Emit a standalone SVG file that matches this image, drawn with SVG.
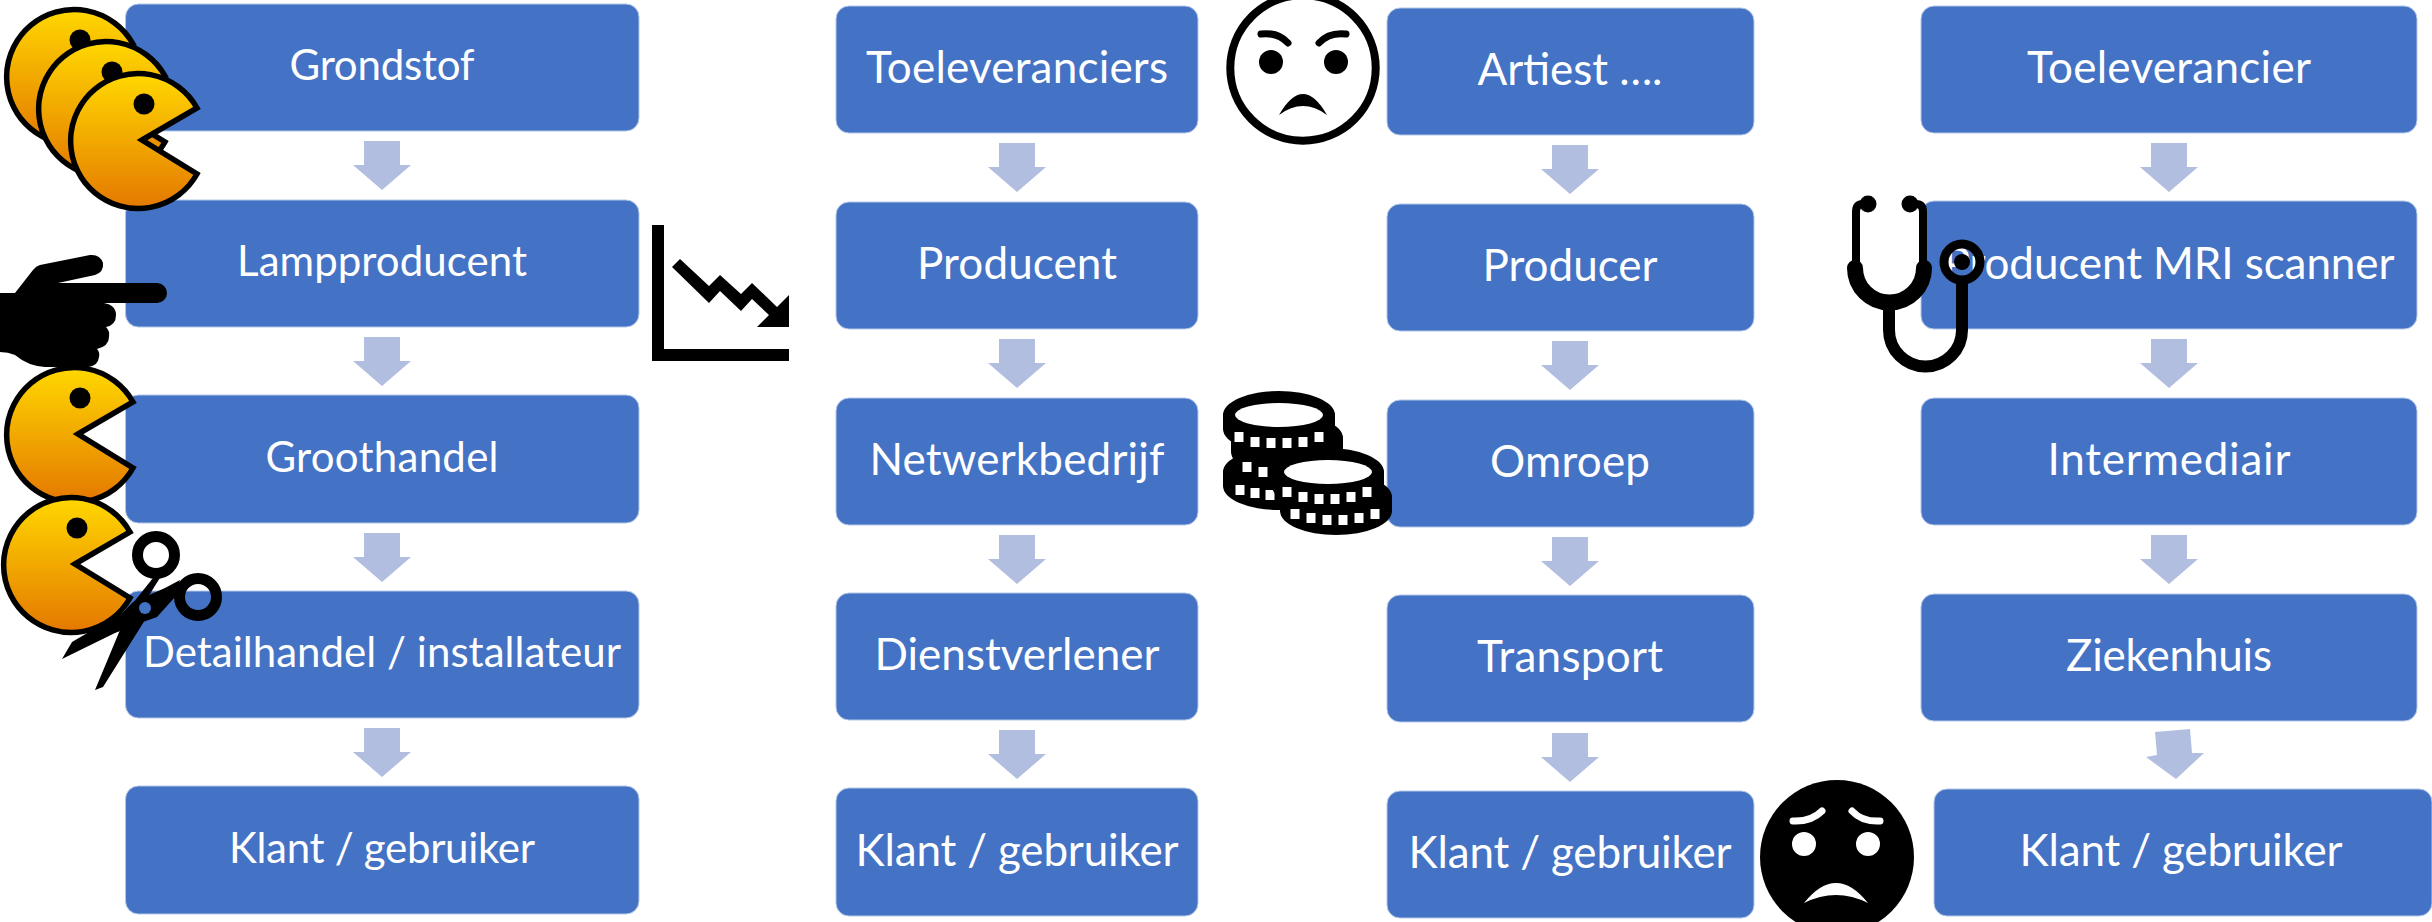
<svg xmlns="http://www.w3.org/2000/svg" width="2432" height="922" viewBox="0 0 2432 922">
<style>
.b{fill:#4472C4;stroke:#B4C7E7;stroke-width:1}
.t{fill:#fff;font-family:Lato,"Liberation Sans",sans-serif;font-size:42px;text-anchor:middle}
.u{font-size:44px}
.a{fill:#B1BEE0}
.k{fill:#000}
.w{fill:#fff}
.pac{fill:url(#pg);stroke:#000;stroke-width:5.5;stroke-linejoin:miter}
</style>
<defs>
<linearGradient id="pg" x1="0" y1="0" x2="0" y2="1"><stop offset="0" stop-color="#FFD800"/><stop offset="1" stop-color="#E47800"/></linearGradient>
<path id="ar" class="a" d="M-18,0H18V24H29L0,49L-29,24H-18Z"/>
<g id="pm"><path class="pac" d="M4,-1L59,-33A67.500,67.500 0 1 0 59,33Z"/><circle class="k" cx="6" cy="-37" r="10.500"/></g>
<path id="coin" class="k" d="M-56,0V14A56,24 0 0 0 56,14V0A56,24 0 0 0 -56,0Z"/>
<path id="tk" class="w" d="M-4.500,-5H4.500V5H-4.500Z"/>
</defs>
<g id="connectors">
<use href="#ar" x="382" y="141"/><use href="#ar" x="382" y="337"/><use href="#ar" x="382" y="533"/><use href="#ar" x="382" y="728"/>
<use href="#ar" x="1017" y="143"/><use href="#ar" x="1017" y="339"/><use href="#ar" x="1017" y="535"/><use href="#ar" x="1017" y="730"/>
<use href="#ar" x="1570" y="145"/><use href="#ar" x="1570" y="341"/><use href="#ar" x="1570" y="537"/><use href="#ar" x="1570" y="733"/>
<use href="#ar" x="2169" y="143"/><use href="#ar" x="2169" y="339"/><use href="#ar" x="2169" y="535"/>
<path class="a" d="M2155,732L2190,729L2192,753L2204,753L2176,779L2146,757L2157,755Z"/>
</g>
<g id="n-grondstof"><rect class="b" x="125.500" y="4" width="513.500" height="127" rx="13"/><text class="t" x="382" y="80" textLength="185">Grondstof</text></g>
<g id="n-lampproducent"><rect class="b" x="125.500" y="200" width="513.500" height="127" rx="13"/><text class="t" x="382" y="276" textLength="290">Lampproducent</text></g>
<g id="n-groothandel"><rect class="b" x="125.500" y="395" width="513.500" height="128" rx="13"/><text class="t" x="382" y="472" textLength="233">Groothandel</text></g>
<g id="n-detailhandel"><rect class="b" x="125.500" y="591" width="513.500" height="127" rx="13"/><text class="t" x="382" y="667" textLength="478">Detailhandel / installateur</text></g>
<g id="n-klant1"><rect class="b" x="125.500" y="786" width="513.500" height="128" rx="13"/><text class="t" x="382" y="863" textLength="306">Klant / gebruiker</text></g>
<g id="n-toeleveranciers"><rect class="b" x="836" y="6" width="362" height="127" rx="13"/><text class="t u" x="1017" y="83" textLength="302">Toeleveranciers</text></g>
<g id="n-producent"><rect class="b" x="836" y="202" width="362" height="127" rx="13"/><text class="t u" x="1017" y="279" textLength="200">Producent</text></g>
<g id="n-netwerkbedrijf"><rect class="b" x="836" y="398" width="362" height="127" rx="13"/><text class="t u" x="1017" y="475" textLength="295">Netwerkbedrijf</text></g>
<g id="n-dienstverlener"><rect class="b" x="836" y="593" width="362" height="127" rx="13"/><text class="t u" x="1017" y="670" textLength="285">Dienstverlener</text></g>
<g id="n-klant2"><rect class="b" x="836" y="788" width="362" height="128" rx="13"/><text class="t u" x="1017" y="866" textLength="323">Klant / gebruiker</text></g>
<g id="n-artiest"><rect class="b" x="1387" y="8" width="367" height="127" rx="13"/><text class="t u" x="1570" y="85" textLength="185">Artiest ….</text></g>
<g id="n-producer"><rect class="b" x="1387" y="204" width="367" height="127" rx="13"/><text class="t u" x="1570" y="281" textLength="175">Producer</text></g>
<g id="n-omroep"><rect class="b" x="1387" y="400" width="367" height="127" rx="13"/><text class="t u" x="1570" y="477" textLength="160">Omroep</text></g>
<g id="n-transport"><rect class="b" x="1387" y="595" width="367" height="127" rx="13"/><text class="t u" x="1570" y="672" textLength="186">Transport</text></g>
<g id="n-klant3"><rect class="b" x="1387" y="791" width="367" height="127" rx="13"/><text class="t u" x="1570" y="868" textLength="323">Klant / gebruiker</text></g>
<g id="n-toeleverancier"><rect class="b" x="1921" y="6" width="496" height="127" rx="13"/><text class="t u" x="2169" y="83" textLength="284">Toeleverancier</text></g>
<g id="n-mri"><rect class="b" x="1921" y="201" width="496" height="128" rx="13"/><text class="t u" x="2169" y="279" textLength="451">Producent MRI scanner</text></g>
<g id="n-intermediair"><rect class="b" x="1921" y="398" width="496" height="127" rx="13"/><text class="t u" x="2169" y="475" textLength="243">Intermediair</text></g>
<g id="n-ziekenhuis"><rect class="b" x="1921" y="594" width="496" height="127" rx="13"/><text class="t u" x="2169" y="671" textLength="206">Ziekenhuis</text></g>
<g id="n-klant4"><rect class="b" x="1934" y="789" width="498" height="127" rx="13"/><text class="t u" x="2181" y="866" textLength="323">Klant / gebruiker</text></g>
<g id="icon-pacman-stack"><use href="#pm" x="74" y="77"/><use href="#pm" x="106" y="109"/><use href="#pm" x="138" y="141"/></g>
<g id="icon-pacman-4"><use href="#pm" x="74" y="435"/></g>
<g id="icon-hand"><path class="k" d="M0,293H15L33,270Q36,266 40,265L90,255Q100,254 103,263Q104,272 95,275L58,283H157A10,10 0 0 1 157,303H104Q116,305 116,315Q116,325 106,327Q110,331 109,337Q109,346 97,349Q100,352 99,357Q98,366 88,367H45Q28,366 15,355Q8,352 0,352Z"/></g>
<g id="icon-pacman-5"><use href="#pm" x="71" y="565"/></g>
<g id="icon-scissors">
<circle cx="156" cy="555" r="18.500" fill="none" stroke="#000" stroke-width="11"/>
<circle cx="198" cy="597" r="18.500" fill="none" stroke="#000" stroke-width="11"/>
<path class="k" d="M163,573L143,605L145,620L103,687L95,690L120,630L133,603L153,578Z"/>
<path class="k" d="M175,597L157,617L143,622L115,633L62,659L72,642L123,612L133,602L165,588L180,580Z"/>
<circle cx="145" cy="608" r="6" fill="#4472C4"/>
</g>
<g id="icon-chart"><path class="k" d="M652,225H664V349H789V361H652Z"/><path class="k" d="M680,259L709,286L720,275L741,294L752,283L777,307L789,295V327H757L769,315L752,299L741,311L720,291L709,303L672,267Z"/></g>
<g id="icon-angry"><circle cx="1303" cy="68" r="72.700" fill="#fff" stroke="#000" stroke-width="8"/><circle class="k" cx="1271" cy="62" r="12"/><circle class="k" cx="1336" cy="62" r="12"/>
<path d="M1261,34Q1278,32 1288,43M1346,34Q1329,32 1319,43" fill="none" stroke="#000" stroke-width="7" stroke-linecap="round"/><path class="k" d="M1279,115Q1303,73 1327,115Q1303,97 1279,115Z"/></g>
<g id="icon-coins">
<use href="#coin" x="1279" y="472"/><use href="#tk" x="1240" y="490"/><use href="#tk" x="1255" y="493"/><use href="#tk" x="1270" y="495"/>
<use href="#coin" x="1287" y="438"/><use href="#tk" x="1247" y="467"/><use href="#tk" x="1263" y="472"/>
<use href="#coin" x="1279" y="415"/><ellipse class="w" cx="1279" cy="415" rx="44" ry="12"/>
<use href="#tk" x="1239" y="437"/><use href="#tk" x="1255" y="442"/><use href="#tk" x="1271" y="443"/><use href="#tk" x="1287" y="443"/><use href="#tk" x="1303" y="442"/><use href="#tk" x="1319" y="437"/>
<use href="#coin" x="1336" y="497"/><use href="#tk" x="1295" y="514"/><use href="#tk" x="1311" y="518"/><use href="#tk" x="1327" y="520"/><use href="#tk" x="1343" y="520"/><use href="#tk" x="1359" y="518"/><use href="#tk" x="1375" y="514"/>
<use href="#coin" x="1328" y="472"/><ellipse class="w" cx="1328" cy="472" rx="44" ry="12"/>
<use href="#tk" x="1287" y="492"/><use href="#tk" x="1303" y="497"/><use href="#tk" x="1319" y="499"/><use href="#tk" x="1335" y="499"/><use href="#tk" x="1351" y="497"/><use href="#tk" x="1367" y="492"/>
</g>
<g id="icon-stethoscope" fill="none" stroke="#000">
<path stroke-width="8" d="M1868,204H1863Q1856,204 1856,212V268M1910,204H1916Q1923,204 1923,212V268"/>
<path stroke-width="16" stroke-linecap="round" d="M1855,268A34.500,34.500 0 0 0 1924,268"/>
<path stroke-width="12" d="M1889,305V330A36.500,36.500 0 0 0 1962,330V280"/>
<circle cx="1962" cy="262" r="18" stroke-width="9"/>
<g fill="#000" stroke="none"><circle cx="1868" cy="204" r="8.500"/><circle cx="1910" cy="204" r="8.500"/><circle cx="1962" cy="262" r="8"/></g>
</g>
<g id="icon-worried"><circle class="k" cx="1837" cy="857" r="77"/><circle class="w" cx="1804" cy="844" r="12"/><circle class="w" cx="1868" cy="844" r="12"/>
<path d="M1793,821Q1811,822 1822,811M1880,821Q1862,822 1852,811" fill="none" stroke="#fff" stroke-width="7" stroke-linecap="round"/><path class="w" d="M1804,903Q1836,863 1868,903Q1836,887 1804,903Z"/></g>
</svg>
